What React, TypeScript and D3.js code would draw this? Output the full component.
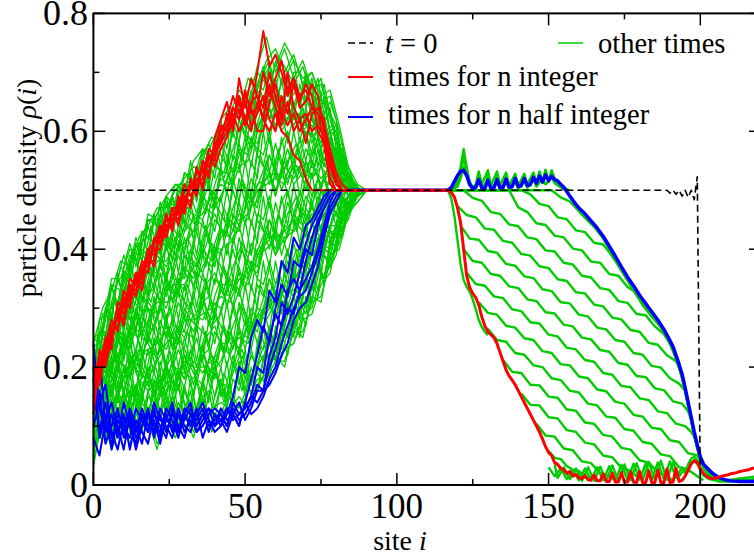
import React from "react";
import * as d3 from "d3";

const W = 754;
const H = 558;

// axes
const xDomain = [0, 220];
const yDomain = [0, 0.8];
const xMajor = [0, 50, 100, 150, 200];
const xMinor = [25, 75, 125, 175];
const yMajor = [0, 0.2, 0.4, 0.6, 0.8];
const yMinor = [0.1, 0.3, 0.5, 0.7];
const yTickText = ["0", "0.2", "0.4", "0.6", "0.8"];

// site grids of the left part (values are density x 100)
const greenLeftSites = [0,3,6,9,12,15,18,21,24,27,30,33,36,39,42,45,48,51,54,57,60,63,66,69,72,75,78,81,84,87,90];
const greenLeftSitesB = [1,4,7,10,13,16,19,22,25,28,31,34,37,40,43,46,49,52,55,58,61,64,67,70,73,76,79,82,85,88];
const rbLeftSites = [0,2,4,6,8,10,12,14,16,18,20,22,24,26,28,30,32,34,36,38,40,42,44,46,48,50,52,54,56,58,60,62,64,66,68,70,72,74,76,78,80,82,84,86,88];

const greenLeft = [
  [24,30,33,38,37,42,44,47,47,50,52,54,53,58,61,60,66,64,71,76,70,74,69,72,67,68,63,58,52,50,50],
  [21,27,35,35,40,39,45,44,49,51,50,55,57,56,62,64,63,69,67,72,74,70,73,68,70,65,66,60,53,50,50],
  [19,29,30,37,35,41,42,46,49,47,53,51,56,59,58,63,67,65,68,70,73,71,68,71,66,69,62,57,51,50,50],
  [25,26,34,33,39,38,46,45,46,51,51,52,57,55,60,61,64,67,70,68,71,75,72,69,70,66,67,61,54,51,50],
  [21,22,28,27,33,31,37,35,41,39,44,43,49,47,52,51,57,56,61,63,64,61,64,60,62,58,60,54,51,50,50],
  [16,26,24,31,29,35,33,39,37,42,40,46,45,50,48,54,53,59,57,66,60,65,60,63,59,61,57,56,52,50,50],
  [20,21,27,30,28,33,36,36,40,38,43,45,46,49,51,50,56,58,58,62,63,62,63,61,61,59,60,53,50,50,50],
  [14,25,23,28,32,30,34,38,38,41,41,43,48,46,49,53,54,55,60,65,61,64,61,64,58,62,58,55,51,50,50],
  [17,19,23,22,27,26,31,29,34,32,37,35,40,38,43,42,46,45,51,52,53,52,55,52,54,52,54,51,50,50,50],
  [13,22,19,26,23,29,27,32,30,35,33,38,36,41,39,45,43,49,47,55,50,54,52,55,52,54,52,53,51,50,50],
  [18,17,22,25,24,28,30,28,33,34,34,37,39,37,42,44,45,46,50,51,52,51,54,54,55,51,53,52,50,50,50],
  [11,21,20,23,26,25,28,31,31,32,36,34,37,40,40,41,44,48,48,54,49,55,51,53,52,55,53,51,50,50,50],
  [14,15,19,18,22,20,25,22,27,24,29,26,31,28,33,32,36,35,40,41,43,41,46,44,47,46,49,47,49,49,50],
  [10,18,15,21,18,23,22,25,23,27,25,29,28,31,30,34,33,38,37,44,40,44,43,47,44,48,47,49,48,50,50],
  [15,14,18,21,19,22,23,24,26,23,28,28,29,30,32,31,35,34,39,40,42,43,45,43,46,45,48,48,47,49,50],
  [9,19,16,17,21,19,26,21,24,26,26,25,32,27,29,35,32,37,36,43,39,42,43,46,45,47,47,46,49,50,50],
  [10,11,14,14,16,14,20,13,20,16,22,17,23,18,24,22,26,25,30,29,32,31,36,35,40,39,44,44,48,49,50],
  [7,15,10,18,12,18,16,17,16,20,18,21,19,22,20,26,22,28,26,32,28,34,32,38,36,42,41,46,46,50,50],
  [12,12,13,15,15,17,17,16,19,17,21,20,20,21,23,23,25,24,29,28,31,33,33,35,37,39,43,43,47,48,50],
  [5,14,11,17,13,15,19,14,17,19,19,18,22,19,21,25,23,27,27,31,29,30,35,37,39,41,40,45,48,49,50],
  [4,11,7,12,8,11,10,9,12,8,13,9,14,10,13,12,14,14,18,18,21,21,26,26,31,32,38,41,47,49,50],
  [8,8,10,9,11,8,13,7,10,11,11,12,12,12,11,15,12,16,16,20,19,23,24,28,29,34,36,43,45,50,50],
  [3,12,6,10,7,12,9,10,9,12,10,11,11,13,14,13,15,13,17,19,22,20,27,25,32,31,39,40,46,48,50],
  [7,9,9,13,10,9,11,6,13,9,12,8,15,9,12,16,13,17,19,17,20,23,24,29,30,35,37,44,47,49,50],
];

const greenLeftB = [
  [25,23,32,29,39,36,44,39,45,42,51,46,53,48,57,53,61,57,67,62,67,61,66,61,66,60,61,53,52,50],
  [19,30,28,36,33,40,38,46,40,47,44,51,46,54,53,60,55,62,60,67,62,67,61,66,61,65,57,57,50,50],
  [23,29,27,34,40,35,40,45,41,49,47,45,52,55,52,57,62,58,63,67,61,65,67,62,64,65,57,56,51,50],
  [21,19,27,24,33,30,37,31,38,34,42,38,44,39,47,43,51,47,56,51,57,51,57,52,59,54,56,50,51,50],
  [15,26,23,31,27,34,31,38,33,39,35,43,37,45,43,50,45,52,49,56,52,57,52,57,54,59,52,54,49,50],
  [19,25,22,29,34,29,33,37,34,41,38,37,43,46,42,47,52,48,52,56,51,55,58,53,57,59,52,53,50,50],
  [18,15,22,18,27,23,30,24,30,26,34,29,35,29,37,33,40,36,45,40,46,42,48,44,51,47,51,47,50,50],
  [12,22,18,25,21,27,24,31,25,31,27,34,28,35,33,40,34,41,38,45,41,48,43,49,46,52,47,51,48,50],
  [16,21,17,23,28,22,26,30,26,33,30,28,34,36,32,37,41,37,41,45,40,46,49,45,49,52,47,50,49,50],
  [15,11,18,13,21,16,23,17,23,18,26,20,26,20,27,23,30,25,34,30,36,32,39,36,44,40,46,45,49,50],
  [9,18,14,20,15,20,17,24,18,23,19,25,19,26,23,30,24,30,27,35,31,38,34,41,39,45,42,49,47,50],
  [13,17,13,18,22,15,19,23,19,25,22,19,25,27,22,27,31,26,30,35,30,36,40,37,42,45,42,48,48,50],
  [13,8,14,9,16,11,18,12,17,12,19,13,20,13,19,15,22,17,26,21,28,25,32,29,38,35,43,42,49,50],
  [7,15,10,16,10,15,12,19,12,17,12,18,13,19,15,22,16,22,19,26,23,31,27,34,33,40,39,46,47,50],
  [11,14,9,14,17,10,14,18,13,19,15,12,19,20,14,19,23,18,22,26,22,29,33,30,36,40,39,45,48,50],
];

// more "other times" curves on the 2-site grid
const greenLeftFine = [
  [23,21,30,28,36,31,38,34,43,39,46,40,48,43,49,44,53,48,54,50,58,54,60,55,62,59,66,63,71,64,69,64,69,62,68,64,68,61,66,60,61,54,53,51,50],
  [18,26,25,34,29,36,32,41,38,44,40,45,41,49,44,50,47,54,48,55,52,59,53,62,58,66,60,67,65,70,63,69,63,69,64,69,62,66,61,64,57,58,51,51,50],
  [25,24,23,31,35,32,37,42,39,38,45,47,42,45,51,47,47,54,53,51,57,56,54,61,64,61,60,68,67,71,65,68,69,64,66,69,64,66,62,63,61,55,53,51,50],
  [20,18,26,23,31,26,32,28,36,32,39,33,41,36,41,36,44,39,45,41,49,44,50,45,52,48,55,52,60,53,58,54,60,53,59,55,60,54,59,55,57,51,52,50,50],
  [15,23,21,29,24,31,26,35,31,37,33,38,34,42,36,42,38,45,39,46,43,49,43,52,48,55,49,56,54,59,52,59,54,60,55,60,54,59,54,59,53,55,50,50,50],
  [22,21,19,26,30,27,31,36,32,31,38,40,35,38,43,39,38,45,44,42,48,46,44,51,54,50,49,57,56,60,54,58,60,55,57,60,56,59,55,58,57,52,52,50,50],
  [17,15,22,19,26,21,27,22,30,25,32,26,34,28,33,28,36,30,36,32,40,35,41,35,42,38,45,41,49,42,48,44,50,44,50,47,53,47,53,49,53,48,51,50,50],
  [12,20,17,25,19,26,21,29,25,30,26,31,27,34,28,34,30,36,30,37,34,40,34,42,38,45,39,45,43,48,42,49,44,51,46,52,47,52,48,53,49,52,49,50,50],
  [19,18,15,22,25,22,26,30,26,24,31,33,28,30,35,31,30,36,35,33,39,37,35,41,44,40,39,46,45,49,44,48,50,46,48,52,49,52,49,52,53,49,51,50,50],
  [14,11,18,15,21,15,21,15,23,18,25,19,26,20,25,19,27,21,27,23,30,25,31,24,31,27,34,30,38,31,38,33,40,34,41,39,45,40,46,43,48,45,49,49,50],
  [9,16,13,21,14,20,15,22,18,23,19,24,19,26,20,25,21,27,21,28,24,30,24,31,27,34,28,34,32,37,32,38,34,41,37,44,39,45,41,47,44,49,47,49,50],
  [16,14,11,18,20,16,20,23,19,17,24,26,20,22,27,22,21,27,26,24,29,27,25,30,33,29,28,35,34,38,34,37,40,36,39,44,41,45,42,46,48,46,49,49,50],
  [11,8,14,10,16,10,15,9,16,11,18,12,19,13,17,11,18,12,18,14,21,15,21,14,21,16,23,19,27,20,27,23,31,25,32,30,37,33,39,38,44,42,48,48,50],
  [6,13,9,16,9,15,9,16,11,16,12,17,12,19,12,17,12,18,12,19,15,20,14,21,17,23,17,23,21,26,21,28,25,32,28,35,31,38,34,42,40,46,46,48,50],
  [13,11,7,13,15,11,14,17,12,10,17,19,13,15,19,14,12,18,17,15,20,17,15,20,23,18,17,24,23,27,23,27,31,27,30,35,33,38,35,41,44,43,48,48,50],
  [22,21,25,31,26,33,36,32,38,37,36,43,40,43,40,47,45,44,50,46,51,54,49,56,54,59,54,60,63,58,65,60,62,65,58,64,60,64,58,60,59,53,52,50,50],
  [17,26,26,25,31,35,31,36,33,40,40,38,44,38,44,43,48,43,48,51,47,53,53,51,58,54,59,56,62,64,60,64,58,63,63,59,63,59,63,58,55,55,53,50,50],
  [19,17,21,26,21,27,30,26,32,30,29,36,32,36,32,39,37,35,41,37,41,44,39,46,44,49,44,49,52,47,54,50,53,55,49,55,52,57,52,55,55,50,50,50,50],
  [14,22,22,20,26,29,25,30,27,33,33,31,36,31,36,35,40,34,39,42,37,43,43,41,48,44,49,45,51,53,49,54,49,53,54,50,55,52,57,53,51,52,51,50,50],
  [16,14,17,22,17,22,25,19,25,24,22,28,25,28,24,30,28,27,33,27,32,35,30,35,33,38,33,39,41,37,44,39,43,46,41,47,45,49,45,49,50,48,49,49,50],
  [11,19,18,16,22,24,20,23,20,27,26,23,29,23,28,26,31,26,31,32,28,34,34,30,37,33,38,35,40,43,39,43,39,44,46,42,48,44,50,47,46,50,50,49,50],
  [13,10,13,17,12,16,19,13,19,17,15,21,17,21,16,22,20,18,24,18,22,25,20,25,23,28,23,28,30,26,33,29,34,36,32,38,37,42,39,44,46,45,47,49,50],
  [8,15,14,11,17,18,14,17,14,20,19,16,21,16,20,18,23,17,22,23,18,24,24,20,27,23,28,24,29,32,28,33,30,34,37,33,40,37,44,42,42,47,48,49,50],
  [11,8,10,14,8,12,15,9,14,12,10,16,12,15,10,16,13,11,17,11,15,18,13,18,16,20,15,20,22,18,26,22,26,29,25,32,31,37,34,39,43,43,46,48,50],
  [6,13,11,8,13,14,10,13,9,15,14,11,16,10,14,12,16,10,15,16,11,17,17,13,20,15,20,16,21,24,21,26,22,27,30,27,34,32,39,37,39,45,47,48,50],
  [24,23,28,34,30,37,41,37,43,42,41,48,45,49,46,53,52,51,57,53,58,62,57,64,62,67,62,68,71,66,72,68,70,72,65,70,66,69,63,65,62,55,53,51,50],
  [19,28,29,28,35,39,36,41,38,45,45,43,49,44,50,49,55,50,55,58,54,61,61,59,66,62,67,64,70,72,67,72,66,70,70,65,69,64,68,63,58,57,54,51,50],
];

const redLeft = [
  [18,22,21,27,28,33,31,36,35,40,39,43,42,46,45,49,48,52,51,56,55,60,62,66,63,66,64,70,77,71,73,70,66,69,66,67,64,63,58,52,50,50,50,50,50],
  [14,19,24,24,30,29,35,34,38,37,42,41,45,44,48,47,51,50,54,53,58,58,63,61,66,62,65,66,62,68,64,61,65,60,62,58,63,64,62,55,51,50,50,50,50],
  [16,17,23,26,27,31,33,33,37,39,40,40,44,45,46,50,50,53,53,55,57,61,60,64,62,67,63,64,70,66,69,72,67,69,65,68,66,60,58,51,50,50,50,50,50],
  [12,21,22,25,29,28,34,32,36,38,38,44,43,47,44,48,51,50,55,54,56,58,60,63,60,62,60,65,62,60,63,60,59,56,55,52,50,50,50,50,50,50,50,50,50],
  [17,20,25,23,31,30,32,36,34,40,41,42,46,43,49,46,52,49,55,52,59,62,65,60,69,64,69,66,64,70,66,62,70,64,62,63,60,61,59,54,51,50,50,50,50],
  [20,18,24,28,26,32,30,35,37,36,41,44,42,47,47,51,49,51,52,57,56,59,61,64,62,65,61,63,66,62,60,66,63,68,64,65,68,66,60,56,52,50,50,50,50],
  [13,23,20,25,30,27,33,35,33,39,37,43,45,44,47,49,47,54,50,56,54,57,59,62,65,61,64,60,60,65,68,63,61,63,60,62,64,63,61,57,53,51,50,50,50],
];

const blueLeft = [
  [24,13,9,12,8,14,10,7,12,9,13,8,11,14,9,12,10,13,8,11,9,10,12,15,20,19,25,28,26,33,31,38,36,42,40,44,45,47,49,50,50,50,50,50,50],
  [18,8,12,6,11,9,13,10,7,12,10,9,13,11,8,12,14,9,11,13,10,11,9,12,10,14,18,22,27,24,30,34,32,38,37,41,44,46,48,50,50,50,50,50,50],
  [12,16,7,10,13,8,11,6,10,13,8,12,9,12,10,8,12,11,13,9,12,10,13,11,12,13,15,20,19,25,29,27,33,35,33,38,42,45,47,49,50,50,50,50,50],
  [8,5,11,14,9,12,6,11,9,7,12,10,8,13,9,11,13,10,12,10,11,12,10,13,11,12,14,17,16,22,25,31,29,32,36,40,39,44,47,49,50,50,50,50,50],
  [20,9,14,8,10,6,12,9,13,10,11,7,12,9,13,10,9,12,14,11,10,13,11,12,14,11,13,16,16,20,23,27,30,29,33,35,37,40,44,48,50,50,50,50,50],
  [15,22,10,7,12,10,8,13,11,9,14,11,10,8,12,9,11,10,12,13,12,11,13,12,10,14,12,13,15,18,20,24,27,30,32,33,36,39,43,47,49,50,50,50,50],
  [10,14,17,9,6,11,12,8,10,12,9,13,11,10,9,13,12,9,10,12,13,12,10,14,12,13,15,14,16,17,19,22,24,28,30,31,34,37,42,46,48,50,50,50,50],
];

// right part: [site, density x 100]
const redRight = [[88,50],[117,50],[118,49.6],[119,48.8],[120,47],[121,44.5],[122,40],[123,35.5],[124,33.5],[125,32.5],[126,31.8],[127,30.5],[128,28.5],[129,27],[130,26],[131,25.5],[132,25],[133,24],[134,22.5],[135,21],[136,19.5],[137,18.5],[138,17.8],[139,17],[140,16],[141,15],[142,14],[143,13],[144,12],[145,11],[146,10],[147,9],[148,7.8],[149,6.5],[150,5.5],[151,5],[152,3.8],[153,3.5],[154,2.8],[155,2.6],[156,2],[157,2.3],[158,1.5],[159,1.8],[160,1.2],[161,1.1],[162,1.6],[163,0.9],[164,0.8],[165,1.7],[166,0.7],[167,0.7],[168,1.9],[169,0.6],[170,0.6],[171,2],[172,0.5],[173,0.5],[174,2.1],[175,0.5],[176,0.5],[177,2.2],[178,0.5],[179,0.4],[180,2.3],[181,0.4],[182,0.4],[183,2.4],[184,0.4],[185,0.4],[186,2.5],[187,0.4],[188,0.4],[189,2.7],[190,0.4],[191,0.5],[192,2.8],[193,0.6],[194,0.8],[195,1.5],[196,2.5],[197,3.6],[198,4.1],[199,3.8],[200,2.8],[201,2],[202,1.5],[203,1.2],[204,1.1],[205,1.2],[206,1.3],[207,1.5],[208,1.6],[209,1.7],[210,1.9],[211,2],[212,2.1],[213,2.3],[214,2.4],[215,2.5],[216,2.6],[217,2.8],[218,2.9],[219,3],[220,3.1]];

const blueRight = [[84,50],[117,50],[118,50.5],[119,51.5],[120,52.5],[121,53.2],[122,53.4],[123,52.5],[124,51],[125,50.3],[126,50.5],[127,51.8],[128,50.4],[129,50.3],[130,51.7],[131,50.3],[132,50.4],[133,51.8],[134,50.4],[135,50.5],[136,51.9],[137,50.5],[138,50.6],[139,52],[140,50.6],[141,50.8],[142,52],[143,50.8],[144,51],[145,52.2],[146,51.2],[147,52.4],[148,51.4],[149,52.6],[150,51.6],[151,52.4],[152,51.8],[153,51.6],[154,51],[155,50.5],[156,49.8],[157,49],[158,48.3],[159,47.6],[160,47],[162,46],[164,44.8],[166,43.6],[168,42.2],[170,40.5],[172,38.8],[174,37],[176,35.3],[178,33.8],[180,32.2],[182,30.8],[184,29.4],[186,28],[188,26.4],[190,24.5],[191,23.5],[192,22],[193,20.5],[194,18.8],[195,16.5],[196,14],[197,11.5],[198,9],[199,6.8],[200,4.8],[201,3.6],[202,3],[203,2.5],[204,2],[206,1.3],[208,0.9],[210,0.7],[213,0.6],[216,0.6],[220,0.6]];

const greenRight = [
  [[150,5.8],[152,4.6],[154,4.4],[156,3.2],[158,2.6],[160,2.4],[162,1.2],[164,1.4],[166,0.6]],
  [[146,10.4],[149,8.4],[152,8.2],[155,6.2],[158,5.9],[161,4],[164,3.7],[167,2],[170,1.5],[172,0.8]],
  [[141,15.5],[144,13.6],[147,13.5],[150,11.5],[153,11.3],[156,9.3],[159,9],[162,7.2],[165,6.9],[168,5],[171,4.7],[174,2.9],[177,2.4],[180,1]],
  [[135,21.2],[138,19.2],[141,19],[144,17],[147,16.9],[150,15],[153,14.8],[156,12.8],[159,12.6],[162,10.6],[165,10.4],[168,8.5],[171,8.2],[174,6.3],[177,6],[180,4.2],[183,3.8],[186,2.1],[189,1.6],[191,0.7]],
  [[130,26.5],[133,24.6],[136,24.3],[139,22.4],[142,22.1],[145,20.3],[148,20],[151,18.1],[154,17.8],[157,16],[160,15.7],[163,13.8],[166,13.5],[169,11.6],[172,11.4],[175,9.5],[178,9.2],[181,7.3],[184,7],[187,5.2],[190,4.9],[193,3],[196,2.6],[199,1.5],[201,0.8]],
  [[127,31],[130,29.2],[133,28.9],[136,27],[139,26.7],[142,24.9],[145,24.6],[148,22.7],[151,22.4],[154,20.5],[157,20.3],[160,18.4],[163,18.1],[166,16.2],[169,15.9],[172,14.1],[175,13.8],[178,11.9],[181,11.6],[184,9.7],[187,9.5],[190,7.6],[193,7.3],[196,5.4],[199,5],[201,3.2],[203,1.8],[206,1]],
  [[123,36],[126,34.1],[129,33.8],[132,32],[135,31.7],[138,29.8],[141,29.5],[144,27.6],[147,27.4],[150,25.5],[153,25.2],[156,23.3],[159,23],[162,21.2],[165,20.9],[168,19],[171,18.7],[174,16.8],[177,16.6],[180,14.7],[183,14.4],[186,12.5],[189,12.2],[192,10.4],[195,10],[197,9],[198,8.2],[199,6.4],[200,4.5],[201,3.1],[203,1.6],[206,0.8]],
  [[122,40],[125,38],[128,37.7],[131,35.8],[134,35.5],[137,33.7],[140,33.4],[143,31.5],[146,31.2],[149,29.3],[152,29.1],[155,27.2],[158,26.9],[161,25],[164,24.7],[167,22.9],[170,22.6],[173,20.7],[176,20.4],[179,18.5],[182,18.3],[185,16.4],[188,16.1],[191,14.2],[194,13.8],[196,12.5],[197,11],[198,8.6],[199,6.4],[200,4.4],[201,3],[203,1.6],[206,0.8]],
  [[121,44],[124,41.8],[127,41.6],[130,39.7],[133,39.4],[136,37.5],[139,37.2],[142,35.4],[145,35.1],[148,33.2],[151,32.9],[154,31],[157,30.8],[160,28.9],[163,28.6],[166,26.7],[169,26.4],[172,24.6],[175,24.3],[178,22.4],[181,22.1],[184,20.2],[187,19.9],[190,18.1],[193,17.2],[195,16],[196,13.5],[197,11],[198,8.5],[199,6.3],[200,4.3],[202,2.2],[205,1]],
  [[120,47.3],[123,45.8],[126,45.4],[129,43.5],[132,43.3],[135,41.4],[138,41.1],[141,39.2],[144,38.9],[147,37.1],[150,36.8],[153,34.9],[156,34.6],[159,32.7],[162,32.5],[165,30.6],[168,30.3],[171,28.4],[174,28.1],[177,26.3],[180,26],[183,24.1],[186,23.8],[189,22],[192,21],[193,20],[194,18.3],[195,16],[196,13.5],[197,11],[198,8.5],[199,6.3],[200,4.3],[202,2.2],[205,1]],
  [[117,50],[122,50],[125,48.7],[128,48.2],[131,46.3],[134,46],[137,44.2],[140,43.9],[143,42],[146,41.7],[149,39.8],[152,39.6],[155,37.7],[158,37.4],[161,35.5],[164,35.2],[167,33.4],[170,33.1],[173,31.2],[176,30.9],[179,29],[182,28.8],[185,26.9],[188,25.6],[190,24],[192,21.5],[194,18.3],[196,13.5],[198,8.5],[200,4.3],[202,2.2],[205,1]],
  [[117,50],[137,50],[140,47.1],[143,46.3],[146,44.4],[149,44.1],[152,42.3],[155,42],[158,40.1],[161,39.8],[164,37.9],[167,37.7],[170,35.8],[173,35.5],[176,33.6],[179,32.6],[181,31],[184,28.6],[187,26.8],[190,24],[192,21.5],[194,18.3],[196,13.5],[198,8.5],[200,4.3],[202,2.2],[205,1]],
  [[117,50],[141,50],[144,49.3],[147,47.7],[150,47.3],[153,45.4],[156,45.1],[159,43.2],[162,42.9],[165,41.1],[168,40.8],[170,39.5],[172,38],[175,35.5],[178,33],[181,30.5],[184,28.6],[187,26.8],[190,24],[192,21.5],[194,18.3],[196,13.5],[198,8.5],[200,4.3],[202,2.2],[205,1]],
  [[117,50],[151,50],[154,48.8],[157,48.1],[159,47],[162,45.3],[165,43.8],[168,41.8],[171,39.2],[174,36.5],[177,34],[180,31.6],[183,29.5],[186,27.5],[189,25.2],[191,23],[193,20],[195,16],[197,11],[199,6.2],[201,3],[204,1.2],[207,0.7]],
  [[116,50],[117,49.8],[118,48.5],[119,45.5],[120,41.5],[121,37.5],[122,34.8],[123,33.6],[124,32.8],[125,31.5],[126,29.8],[127,28],[128,26.8],[129,26],[130,25.4]],
  [[116,50],[119,50],[120,51.5],[121,54],[122,57],[123,54],[124,51],[125,50.2],[126,50.5],[127,52.5],[128,50.5],[129,50.2],[130,52.8],[131,50.3],[132,50.2],[133,52.6],[134,50.3],[135,50.3],[136,52.5],[137,50.4],[138,50.5],[139,52.4],[140,50.5],[141,50.6],[142,52.2],[143,50.6],[144,50.8],[145,52.4],[146,51],[147,52.6],[148,51.2],[149,53.2],[150,51.4],[151,53],[152,51.5],[153,51.2],[154,50.6],[155,50.2],[156,50]],
  [[116,50],[120,51],[121,53],[122,55.5],[123,53.5],[124,51.5],[125,50.5],[126,51],[127,53.2],[128,51],[130,53.4],[131,50.8],[133,53.2],[134,50.8],[136,53],[137,50.8],[139,52.8],[140,50.8],[142,52.8],[143,51],[145,53],[146,51.3],[147,53.2],[148,51.5],[149,53.5],[150,51.6],[151,53.4],[152,52],[153,51.4],[155,50.4],[157,50]],
  [[116,50],[120,50.6],[121,52],[122,54],[123,52.5],[124,50.8],[126,50.5],[127,51.8],[128,50.3],[130,51.8],[131,50.2],[133,51.5],[134,50.2],[136,51.5],[137,50.3],[139,51.5],[140,50.3],[142,51.6],[143,50.4],[145,51.8],[146,50.6],[148,52],[149,51],[151,52.2],[152,51.2],[154,50.5],[156,50]],
  [[150,3],[152,1.5],[154,2.8],[156,1],[158,2.5],[160,0.8],[162,2.8],[164,0.8],[166,3],[168,0.8],[170,3.2],[172,0.8],[174,3.4],[176,0.9],[178,3.6],[180,0.9],[182,3.6],[184,1],[186,3.8],[188,1],[190,4],[192,1.2],[194,3],[195,2],[196,3.5],[197,4.5],[198,4.8],[199,4.2],[200,3],[201,2],[202,1.4],[204,1],[207,0.8],[210,0.9],[213,1.1],[216,1.3],[220,1.6]],
  [[152,3.5],[153,1.2],[155,3],[157,1],[159,2.8],[161,0.7],[163,3],[165,0.7],[167,3.1],[169,0.7],[171,3.3],[173,0.7],[175,3.5],[177,0.8],[179,3.7],[181,0.8],[183,3.9],[185,0.9],[187,4.1],[189,0.9],[191,3.8],[193,1.5],[195,2.8],[196,3],[197,3.8],[198,4.2],[199,3.6],[200,2.5],[201,1.6],[203,1],[206,0.6],[210,0.6],[214,0.8],[220,1.1]],
];

const initialProfile = [[0,50],[189,50],[190,49.5],[191,50],[192,49.3],[193,50],[194,49],[195,50],[196,48.8],[197,50],[198,48.4],[199,52.3],[200,0],[220,0]];

const legendLabels = ["t = 0", "other times", "times for n integer", "times for n half integer"];
const GREEN = "#00cc00";
const RED = "#ff0000";
const BLUE = "#0000ff";
const FONT = '"Liberation Serif", "Times New Roman", "DejaVu Serif", serif';

export default function App() {
  const x = d3.scaleLinear().domain(xDomain).range([93.4, 761]);
  const y = d3.scaleLinear().domain(yDomain).range([485, 13.4]);
  const line = d3.line<number[]>().x((d) => x(d[0])).y((d) => y(d[1] / 100));
  const fromGrid = (sites: number[], vals: number[]) => sites.map((s, i) => [s, vals[i]]);
  const x0 = x(0), x1 = x(220), y0 = y(0), y1 = y(0.8);
  const maj = 12, mnr = 6;
  const tf = { fontFamily: FONT };

  return (
    <svg width={W} height={H} style={{ position: "absolute", left: 0, top: 0, background: "#fff", fontFamily: FONT }}>
      <rect x={0} y={0} width={W} height={H} fill="#fff" />
      <g fill="none" strokeLinejoin="round">
        {greenLeft.map((v, i) => (
          <path key={"gl" + i} d={line(fromGrid(greenLeftSites, v)) || ""} stroke={GREEN} strokeWidth={1.3} />
        ))}
        {greenLeftB.map((v, i) => (
          <path key={"gb" + i} d={line(fromGrid(greenLeftSitesB, v)) || ""} stroke={GREEN} strokeWidth={1.3} />
        ))}
        {greenLeftFine.map((v, i) => (
          <path key={"gf" + i} d={line(fromGrid(rbLeftSites, v)) || ""} stroke={GREEN} strokeWidth={1.3} />
        ))}
        {greenRight.map((v, i) => (
          <path key={"gr" + i} d={line(v) || ""} stroke={GREEN} strokeWidth={2.4} />
        ))}
        {blueLeft.map((v, i) => (
          <path key={"bl" + i} d={line(fromGrid(rbLeftSites, v)) || ""} stroke={BLUE} strokeWidth={2} />
        ))}
        <path d={line(blueRight) || ""} stroke={BLUE} strokeWidth={3.5} />
        {redLeft.map((v, i) => (
          <path key={"rl" + i} d={line(fromGrid(rbLeftSites, v)) || ""} stroke={RED} strokeWidth={2} />
        ))}
        <path d={line(redRight) || ""} stroke={RED} strokeWidth={3} />
        <path d={line(initialProfile) || ""} stroke="#000" strokeWidth={1.6} strokeDasharray="7,4" />
      </g>

      {/* frame */}
      <g stroke="#000" fill="none">
        <rect x={x0} y={y1} width={x1 - x0} height={y0 - y1} strokeWidth={2} />
        {xMajor.map((t) => (
          <g key={"xm" + t}>
            <line x1={x(t)} x2={x(t)} y1={y0} y2={y0 - maj} strokeWidth={1.5} />
            <line x1={x(t)} x2={x(t)} y1={y1} y2={y1 + maj} strokeWidth={1.5} />
          </g>
        ))}
        {xMinor.map((t) => (
          <g key={"xn" + t}>
            <line x1={x(t)} x2={x(t)} y1={y0} y2={y0 - mnr} strokeWidth={1.5} />
            <line x1={x(t)} x2={x(t)} y1={y1} y2={y1 + mnr} strokeWidth={1.5} />
          </g>
        ))}
        {yMajor.map((t) => (
          <g key={"ym" + t}>
            <line x1={x0} x2={x0 + maj} y1={y(t)} y2={y(t)} strokeWidth={1.5} />
            <line x1={x1} x2={x1 - maj} y1={y(t)} y2={y(t)} strokeWidth={1.5} />
          </g>
        ))}
        {yMinor.map((t) => (
          <g key={"yn" + t}>
            <line x1={x0} x2={x0 + mnr} y1={y(t)} y2={y(t)} strokeWidth={1.5} />
            <line x1={x1} x2={x1 - mnr} y1={y(t)} y2={y(t)} strokeWidth={1.5} />
          </g>
        ))}
      </g>

      {/* tick labels */}
      <g fill="#000" style={tf}>
        {xMajor.map((t) => (
          <text key={"xl" + t} x={x(t)} y={518} fontSize={35} textAnchor="middle" style={tf}>{t}</text>
        ))}
        {yMajor.map((t, i) => (
          <text key={"yl" + t} x={88} y={y(t) + 12} fontSize={36} textAnchor="end" style={tf}>{yTickText[i]}</text>
        ))}
      </g>

      {/* axis titles */}
      <text x={400} y={550} fontSize={28} textAnchor="middle" style={tf}>
        site <tspan fontStyle="italic">i</tspan>
      </text>
      <text transform="translate(36,188) rotate(-90)" fontSize={28} textAnchor="middle" style={tf}>
        particle density <tspan fontStyle="italic">ρ</tspan>(<tspan fontStyle="italic">i</tspan>)
      </text>

      {/* legend */}
      <g fontSize={28.5} style={tf}>
        <line x1={348} x2={373} y1={43} y2={43} stroke="#000" strokeWidth={1.6} strokeDasharray="7,4" />
        <text x={385} y={53} style={tf}>
          <tspan fontStyle="italic">t</tspan>{legendLabels[0].slice(1)}
        </text>
        <line x1={558} x2={583} y1={43} y2={43} stroke={GREEN} strokeWidth={1.5} />
        <text x={598} y={53} style={tf}>{legendLabels[1]}</text>
        <line x1={348} x2={373} y1={77} y2={77} stroke={RED} strokeWidth={2} />
        <text x={388} y={86} style={tf}>{legendLabels[2]}</text>
        <line x1={348} x2={373} y1={117} y2={117} stroke={BLUE} strokeWidth={2} />
        <text x={388} y={124} style={tf}>{legendLabels[3]}</text>
      </g>
    </svg>
  );
}
